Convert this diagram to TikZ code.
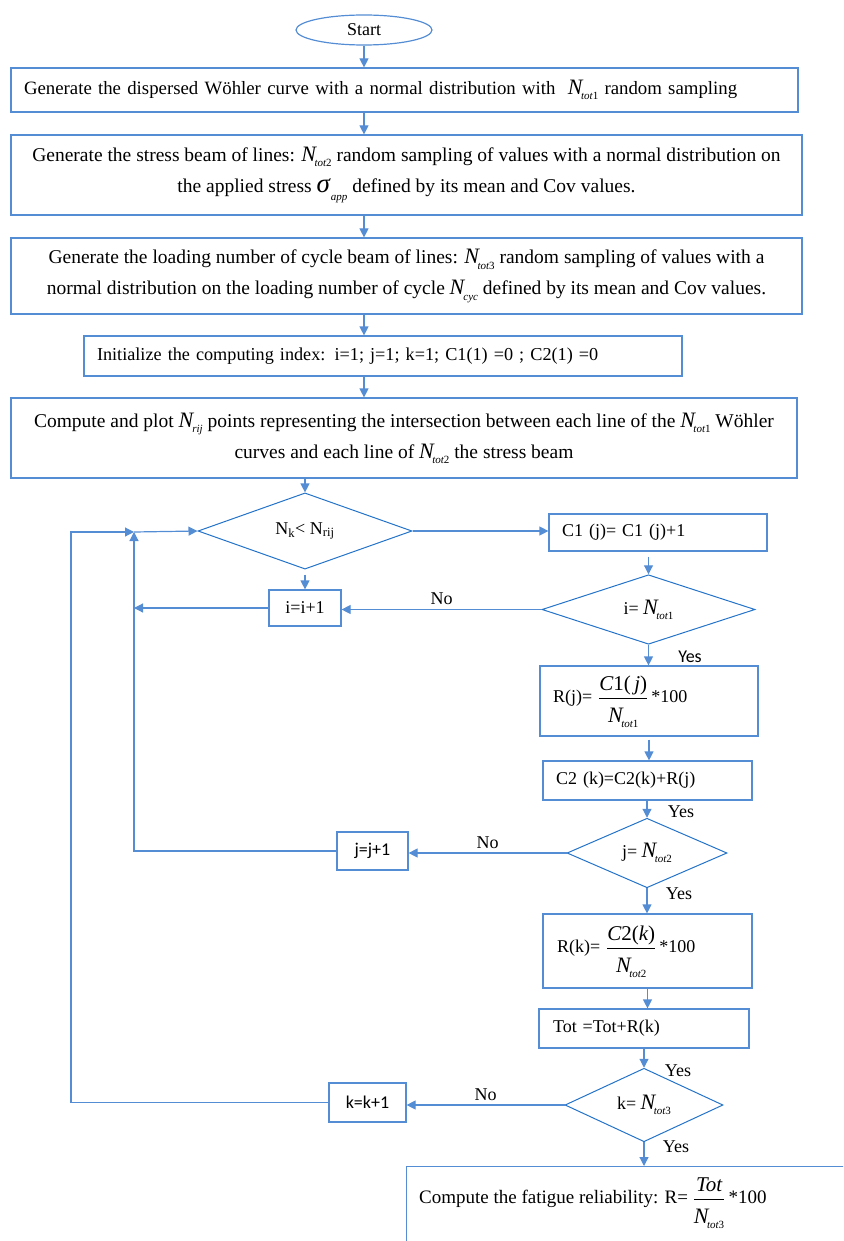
\documentclass[tikz,border=0pt]{standalone}
\usepackage{fontspec}
\usepackage{amsmath}
\setmainfont{Liberation Serif}
\newfontfamily\carl{Carlito}
\usetikzlibrary{shapes.geometric,arrows.meta}
\definecolor{boxblue}{RGB}{84,141,212}
\definecolor{diablue}{RGB}{35,115,200}
\newcommand{\fs}{\fontsize{18}{31}\selectfont}
\newcommand{\fl}{\fontsize{19.5}{31}\selectfont}
\newcommand{\Ntot}[1]{\mbox{\fontsize{22}{22}\selectfont\itshape N\kern-1.5pt\raisebox{-0.5ex}{\fontsize{11}{11}\selectfont\itshape tot\upshape #1}}}
\newcommand{\Nsub}[1]{\mbox{\fontsize{22}{22}\selectfont\itshape N\kern-1pt\raisebox{-0.5ex}{\fontsize{11}{11}\selectfont\itshape #1}}}
\newcommand{\sigapp}{\mbox{\fontsize{27}{27}\selectfont\itshape σ\kern1pt\raisebox{-0.6ex}{\fontsize{11}{11}\selectfont app}}}
\newcommand{\bfrac}[2]{$\displaystyle\frac{\rule[-4pt]{0pt}{20pt}\mbox{\fontsize{21}{21}\selectfont #1}}{\rule{0pt}{22pt}#2}$}
\begin{document}
\begin{tikzpicture}[x=1pt,y=-1pt,
  box/.style={draw=boxblue,line width=1.2pt,inner sep=0pt,font=\fs},
  dia/.style={diamond,draw=diablue,line width=1pt,inner sep=0pt,font=\fs},
  arr/.style={draw=boxblue,line width=1.2pt,-{Triangle[length=9pt,width=9pt]}},
  lbl/.style={font=\fs,inner sep=0pt}]
\useasboundingbox (0,0) rectangle (843,1241);
\clip (0,0) rectangle (843,1241);

\node[box,ellipse,minimum width=136,minimum height=30] (start) at (364,30) {Start};
\node[box,minimum width=787,minimum height=44,text width=761,align=left,inner xsep=13,font=\fontsize{18.8}{31}\selectfont] (b1) at (404.5,90)
  {Generate the dispersed Wöhler curve with a normal distribution with \ \Ntot{1} random sampling};
\node[box,minimum width=791,minimum height=80,align=center,font=\fl] (b2) at (406.5,175)
  {Generate the stress beam of lines: \Ntot{2} random sampling of values with a normal distribution on\\
   the applied stress \sigapp\ defined by its mean and Cov values.};
\node[box,minimum width=791,minimum height=76,align=center,font=\fl] (b3) at (406.5,276)
  {Generate the loading number of cycle beam of lines: \Ntot{3} random sampling of values with a\\
   normal distribution on the loading number of cycle \Nsub{cyc}\ defined by its mean and Cov values.};
\node[box,minimum width=598,minimum height=40,text width=572,align=left,inner xsep=13,font=\fontsize{18.2}{31}\selectfont] (b4) at (383,356)
  {Initialize the computing index: i=1; j=1; k=1; C1(1) =0 ; C2(1) =0};
\node[box,minimum width=786,minimum height=80,align=center,font=\fl] (b5) at (404,438)
  {Compute and plot \Nsub{rij}\ points representing the intersection between each line of the \Ntot{1} Wöhler\\
   curves and each line of \Ntot{2} the stress beam};

\node[dia,minimum width=214,minimum height=61] (d1) at (305,531) {N\textsubscript{k}< N\textsubscript{rij}};
\node[box,minimum width=218,minimum height=37,text width=192,align=left,inner xsep=13] (c1) at (658,532.5)
  {C1 (j)= C1 (j)+1};
\node[dia,minimum width=213,minimum height=63] (d2) at (648.5,609.5) {i= \Ntot{1}};
\node[box,minimum width=72,minimum height=36] (ib) at (305,608) {i=i+1};
\node[box,minimum width=218,minimum height=70,text width=192,align=left,inner xsep=13] (rj) at (649,701)
  {R(j)= \bfrac{\itshape C\upshape 1(\,\itshape j\upshape )}{\Ntot{1}}\,*100};
\node[box,minimum width=209,minimum height=39,text width=183,align=left,inner xsep=13] (c2) at (647.5,780.5)
  {C2 (k)=C2(k)+R(j)};
\node[dia,minimum width=160,minimum height=64] (d3) at (647,853) {j= \Ntot{2}};
\node[box,minimum width=71,minimum height=38,font=\carl\fs] (jb) at (372.5,851) {j=j+1};
\node[box,minimum width=209,minimum height=74,text width=181,align=left,inner xsep=14] (rk) at (647.5,951)
  {R(k)= \bfrac{\itshape C\upshape 2(\itshape k\upshape )}{\Ntot{2}}\,*100};
\node[box,minimum width=210,minimum height=39,text width=182,align=left,inner xsep=14] (tot) at (644,1028.5)
  {Tot =Tot+R(k)};
\node[dia,minimum width=158,minimum height=66] (d4) at (644,1105) {k= \Ntot{3}};
\node[box,minimum width=77,minimum height=39,font=\carl\fs] (kb) at (367.5,1102.5) {k=k+1};
\node[box,anchor=north west,minimum width=480,minimum height=110] (fin) at (406,1166) {};
\node[lbl,anchor=west,font=\fontsize{19}{31}\selectfont] (fintxt) at (419,1202)
  {Compute the fatigue reliability: R= \bfrac{\itshape Tot}{\Ntot{3}}\,*100};

\coordinate (inn) at (134,532);
\coordinate (out) at (71,532);

\draw[arr] (start.south) -- (start.south |- b1.north);
\draw[arr] (start.south |- b1.south) -- (start.south |- b2.north);
\draw[arr] (start.south |- b2.south) -- (start.south |- b3.north);
\draw[arr] (start.south |- b3.south) -- (start.south |- b4.north);
\draw[arr] (start.south |- b4.south) -- (start.south |- b5.north);
\draw[arr] (d1.north |- b5.south) -- (d1.north);
\draw[arr] (d1.east) -- (d1.east -| c1.west);
\draw[arr,shorten <=5pt] (d2.north |- c1.south) -- (d2.north);
\draw[arr] (d2.west) -- node[lbl,above=4pt] (no1) {No} (d2.west -| ib.east);
\draw[arr,shorten <=5pt] (d1.south) -- (ib.north);
\draw[arr] (ib.west) -- (ib.west -| inn);
\draw[arr] (d2.south) -- (d2.south |- rj.north);
\draw[arr,shorten <=3pt] (rj.south) -- (rj.south |- c2.north);
\draw[arr] (d3.north |- c2.south) -- (d3.north);
\draw[arr] (d3.west) -- node[lbl,above=4pt] (no2) {No} (d3.west -| jb.east);
\draw[arr] (jb.west) -- (jb.west -| inn) -- (inn);
\draw[arr] (d3.south) -- (d3.south |- rk.north);
\draw[arr] (rk.south) -- (rk.south |- tot.north);
\draw[arr] (tot.south) -- (d4.north);
\draw[arr] (d4.west) -- node[lbl,above=4pt] (no3) {No} (d4.west -| kb.east);
\draw[arr] (kb.west) -- (kb.west -| out) -- (out) -- (inn);
\draw[arr] (inn) -- (d1.west);
\draw[arr] (d4.south) -- (d4.south |- fin.north);

\node[lbl,font=\carl\fs] (y1) at (690,657) {Yes};
\node[lbl] (y2) at (681,812) {Yes};
\node[lbl] (y3) at (679,894) {Yes};
\node[lbl] (y4) at (678,1071) {Yes};
\node[lbl] (y5) at (676,1147) {Yes};
\end{tikzpicture}
\end{document}
